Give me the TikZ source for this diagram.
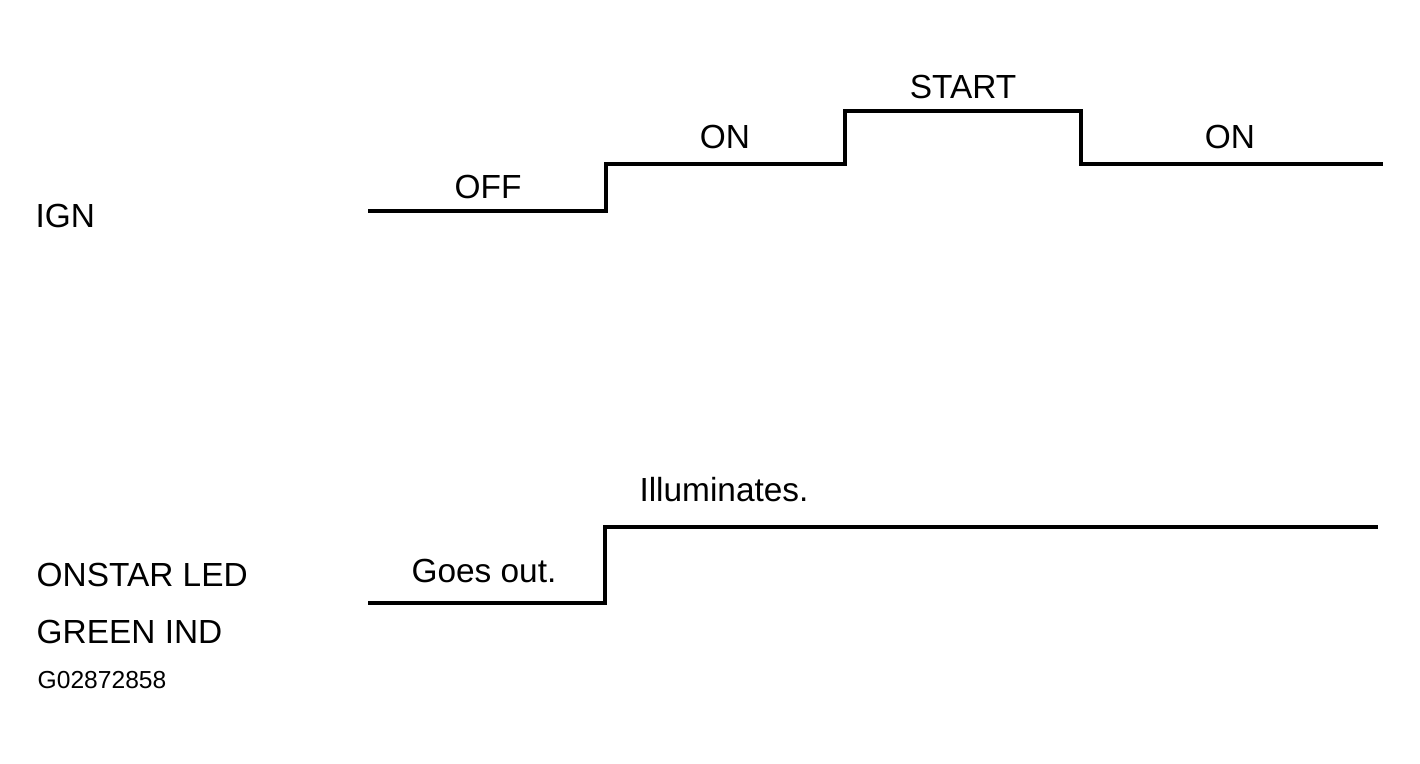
\documentclass[tikz,border=0pt]{standalone}
\usepackage{fontspec}
\setmainfont{Liberation Sans}
\begin{document}
\begin{tikzpicture}[x=0.01cm,y=-0.01cm]
    \tikzset{wave/.style={line width=1.1pt,line join=miter},
      lbl/.style={font=\fontsize{9.5}{11}\selectfont,inner sep=0pt},
      sig/.style={lbl,anchor=west}}
    \useasboundingbox (0,0) rectangle (1420,764);
    % signal names
    \node[sig] (ign) at (35,216) {IGN};
    \node[sig] (led) at (36,575) {ONSTAR LED};
    \node[sig] (grn) at (36,632) {GREEN IND};
    \node[anchor=west,inner sep=0pt,font=\fontsize{7}{9}\selectfont] (fig) at (37,680) {G02872858};
    % IGN waveform
    \coordinate (i0) at (368,211);
    \coordinate (i1) at (606,211);
    \coordinate (i2) at (606,164);
    \coordinate (i3) at (845,164);
    \coordinate (i4) at (845,111);
    \coordinate (i5) at (1081,111);
    \coordinate (i6) at (1081,164);
    \coordinate (i7) at (1383,164);
    \draw[wave] (i0) -- (i1) -- (i2) -- (i3) -- (i4) -- (i5) -- (i6) -- (i7);
    \node[lbl] (off) at (488,187) {OFF};
    \node[lbl] (on1) at (725,137) {ON};
    \node[lbl] (st) at (963,87) {START};
    \node[lbl] (on2) at (1230,137) {ON};
    % LED waveform
    \coordinate (l0) at (368,603);
    \coordinate (l1) at (605,603);
    \coordinate (l2) at (605,527);
    \coordinate (l3) at (1378,527);
    \draw[wave] (l0) -- (l1) -- (l2) -- (l3);
    \node[lbl] (out) at (484,571) {Goes out.};
    \node[lbl] (ill) at (724,490) {Illuminates.};
\end{tikzpicture}
\end{document}
